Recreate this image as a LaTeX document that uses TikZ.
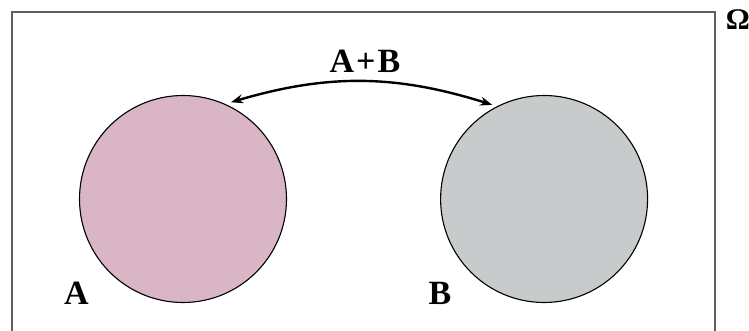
\documentclass[tikz,border=0pt]{standalone}
\usepackage{fontspec}
\setmainfont{Liberation Serif}
\usetikzlibrary{positioning,arrows.meta}
\definecolor{rosa}{RGB}{218,181,197}
\definecolor{plata}{RGB}{200,203,204}
\definecolor{marco}{RGB}{95,95,95}

\begin{document}
\begin{tikzpicture}[x=1pt,y=1pt,
        c/.style={draw=black,line width=1.1pt,circle,minimum size=207pt,inner sep=0pt},
        t/.style={inner sep=0pt,font=\fontsize{34}{36}\selectfont\bfseries},
        f/.style={{Stealth[length=12pt,width=9pt]}-{Stealth[length=12pt,width=9pt]},line width=2.4pt,shorten <=6pt,shorten >=5pt}]
        \useasboundingbox (0,0) rectangle (749,330);
        \fill[white] (0,0) rectangle (749,330);
        \draw[marco,line width=1.8pt] (12,-10) rectangle (715,318);
        \node[c,fill=rosa] (A) at (183,131) {};
        \node[c,fill=plata,right=153pt of A] (B) {};
        \node[t] (la) at (76.5,36.5) {A};
        \node[t] (lb) at (440,37) {B};
        \node[t,font=\fontsize{30}{32}\selectfont\bfseries] (om) at (738,310) {Ω};
        \node[t] (ab) at (365,269) {A\kern2pt+\kern2pt B};
        \draw[f] (A.66) to[bend left=17] (B.117);
      \end{tikzpicture}
\end{document}
